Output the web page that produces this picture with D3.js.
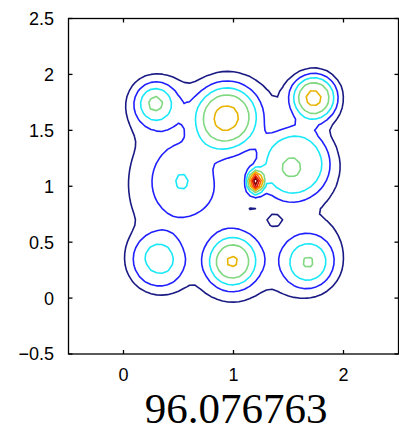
<!DOCTYPE html>
<html>
<head>
<meta charset="utf-8">
<script src="https://cdn.jsdelivr.net/npm/d3@7"></script>
<style>
  body { margin: 0; background: #fff; }
  svg { display: block; }
</style>
</head>
<body>
<div class="container"></div>
<script>
// bumps: centre, height (in contour steps), spread, sharpness
// order: 9 hills, spike, 2 small pits, centre swell, low plateau under everything
const bumpX  = [0.28, 0.94, 1.74, 1.56, 0.53, 1.20, 0.30, 0.99, 1.69, 1.38, 1.17, 1.20, 1.00];
const bumpY  = [1.75, 1.62, 1.80, 1.20, 1.04, 1.04, 0.32, 0.32, 0.31, 0.69, 0.79, 0.80, 0.97];
const bumpA  = [3.72, 4.30, 4.75, 3.08, 2.15, 7.50, 2.45, 4.15, 3.35, -0.40, -0.40, 0.30, 0.92];
const bumpSx = [0.149, 0.212, 0.153, 0.228, 0.235, 0.045, 0.19, 0.17, 0.18, 0.08, 0.035, 0.30, 0.82];
const bumpSy = [0.149, 0.212, 0.153, 0.228, 0.270, 0.065, 0.19, 0.17, 0.18, 0.07, 0.025, 0.30, 0.82];
const bumpP  = [1.0, 1.4, 1.4, 1.8, 1.0, 1.0, 1.6, 1.2, 1.1, 1.0, 1.0, 2.0, 4.0];

const levels = [1, 2, 3, 4, 5, 6, 7, 8];
const levelColors = ['#1a1a84', '#2020ff', '#1ae8f8', '#80d880', '#e8b400', '#ff6a00', '#e81800', '#8c0000'];

const xTicks = [0, 1, 2];
const yTicks = [-0.5, 0, 0.5, 1, 1.5, 2, 2.5];
const title = '96.076763';

const width = 399, height = 433;
const x = d3.scaleLinear().domain([-0.5, 2.5]).range([68.5, 398.5]);
const y = d3.scaleLinear().domain([-0.5, 2.5]).range([354, 18.5]);

const svg = d3.select('.container').append('svg')
    .attr('width', width)
    .attr('height', height);

// sample the surface on a coarse grid, like the original
const step = 0.05;
const nx = Math.round(3 / step) + 1, ny = nx;
const values = new Array(nx * ny);
for (let j = 0; j < ny; j++) {
    for (let i = 0; i < nx; i++) {
        const px = -0.5 + i * step, py = -0.5 + j * step;
        let v = 0;
        for (let k = 0; k < bumpX.length; k++) {
            const dx = (px - bumpX[k]) / bumpSx[k], dy = (py - bumpY[k]) / bumpSy[k];
            v += bumpA[k] * Math.exp(-Math.pow(0.5 * (dx * dx + dy * dy), bumpP[k]));
        }
        values[j * nx + i] = v;
    }
}

const contours = d3.contours().size([nx, ny]).thresholds(levels)(values);
const toScreen = d3.geoTransform({
    point: function (gx, gy) {
        this.stream.point(x(-0.5 + (gx - 0.5) * step), y(-0.5 + (gy - 0.5) * step));
    }
});
const path = d3.geoPath(toScreen);

svg.append('clipPath').attr('id', 'plot')
    .append('rect')
    .attr('x', x(-0.5)).attr('y', y(2.5))
    .attr('width', x(2.5) - x(-0.5)).attr('height', y(-0.5) - y(2.5));

svg.append('g')
    .attr('clip-path', 'url(#plot)')
    .selectAll('path')
    .data(contours)
    .enter()
    .append('path')
    .attr('d', path)
    .attr('fill', 'none')
    .attr('stroke', (d, i) => levelColors[i])
    .attr('stroke-width', 1.6)
    .attr('stroke-linejoin', 'round');

// box and ticks
const tickLen = 4;
const axes = svg.append('g').attr('stroke', '#000').attr('stroke-width', 1.3);
axes.append('rect')
    .attr('x', x(-0.5)).attr('y', y(2.5))
    .attr('width', x(2.5) - x(-0.5)).attr('height', y(-0.5) - y(2.5))
    .attr('fill', 'none');
xTicks.forEach(t => {
    axes.append('line').attr('x1', x(t)).attr('x2', x(t)).attr('y1', y(-0.5)).attr('y2', y(-0.5) - tickLen);
    axes.append('line').attr('x1', x(t)).attr('x2', x(t)).attr('y1', y(2.5)).attr('y2', y(2.5) + tickLen);
});
yTicks.forEach(t => {
    axes.append('line').attr('x1', x(-0.5)).attr('x2', x(-0.5) + tickLen).attr('y1', y(t)).attr('y2', y(t));
    axes.append('line').attr('x1', x(2.5)).attr('x2', x(2.5) - tickLen).attr('y1', y(t)).attr('y2', y(t));
});

svg.append('g')
    .selectAll('text')
    .data(yTicks)
    .enter()
    .append('text')
    .attr('x', 54)
    .attr('y', d => y(d))
    .attr('dy', '0.36em')
    .attr('text-anchor', 'end')
    .style('font-family', '"Liberation Sans", Arial, sans-serif')
    .style('font-size', '18px')
    .text(d => d < 0 ? '\u2212' + Math.abs(d) : d);

svg.append('g')
    .selectAll('text')
    .data(xTicks)
    .enter()
    .append('text')
    .attr('x', d => x(d))
    .attr('y', 381)
    .attr('text-anchor', 'middle')
    .style('font-family', '"Liberation Sans", Arial, sans-serif')
    .style('font-size', '18px')
    .text(d => d);

svg.append('text')
    .attr('x', 236)
    .attr('y', 423)
    .attr('text-anchor', 'middle')
    .style('font-family', '"Liberation Serif", "Times New Roman", serif')
    .style('font-size', '43px')
    .text(title);
</script>
</body>
</html>
